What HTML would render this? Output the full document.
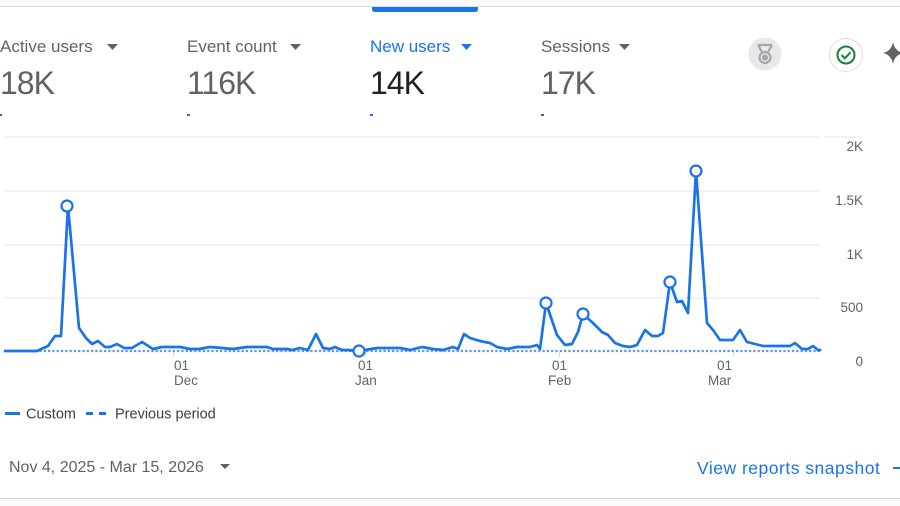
<!DOCTYPE html>
<html>
<head>
<meta charset="utf-8">
<style>
  html, body { margin:0; padding:0; background:#fff; }
  body { width:900px; height:506px; position:relative; overflow:hidden; font-family:"Liberation Sans", Arial, sans-serif; }
  .abs { position:absolute; white-space:nowrap; }
  .mlabel { font-size:17px; color:#5f6368; top:37px; }
  .mval { font-size:32px; color:#5f6368; top:65px; letter-spacing:-1px; }
</style>
</head>
<body>
<svg width="900" height="506" style="position:absolute;left:0;top:0" xmlns="http://www.w3.org/2000/svg">
  <!-- top strip -->
  <rect x="0" y="0" width="900" height="6" fill="#f8f9fa"/>
  <line x1="0" y1="6.5" x2="900" y2="6.5" stroke="#dadce0" stroke-width="1"/>
  <path d="M372 7 H478 V9 Q478 12 475 12 H375 Q372 12 372 9 Z" fill="#1a73e8"/>

  <!-- metric triangles -->
  <path d="M107 44 L118 44 L112.5 50 Z" fill="#5f6368"/>
  <path d="M290 44 L301 44 L295.5 50 Z" fill="#5f6368"/>
  <path d="M461 44 L472 44 L466.5 50 Z" fill="#1a73e8"/>
  <path d="M619 44 L630 44 L624.5 50 Z" fill="#5f6368"/>

  <!-- small dashes under values -->
  <rect x="0" y="114" width="2" height="2" fill="#5f6368"/>
  <rect x="187" y="114" width="3" height="2" fill="#5f6368"/>
  <rect x="370" y="114" width="3" height="2" fill="#1a73e8"/>
  <rect x="541" y="114" width="3" height="2" fill="#5f6368"/>

  <!-- icons -->
  <circle cx="765" cy="54" r="16.5" fill="#e8e8e8"/>
  <g fill="none" stroke="#a4a7ab" stroke-width="2.2">
    <path d="M758 45 L762 52 M772 45 L768 52 M758 45 H772"/>
    <circle cx="765" cy="57.5" r="5.5"/>
    <circle cx="765" cy="57.5" r="2" fill="#a4a7ab"/>
  </g>
  <circle cx="846" cy="55" r="16.5" fill="#fff" stroke="#dadce0" stroke-width="1"/>
  <circle cx="846" cy="55" r="8.5" fill="none" stroke="#188038" stroke-width="2"/>
  <path d="M841.5 55 L844.8 58.3 L850.5 52.3" fill="none" stroke="#188038" stroke-width="2"/>
  <path d="M893 42 Q894.5 51 903 53 Q894.5 55 893 64 Q891.5 55 883 53 Q891.5 51 893 42 Z" fill="#5f6368"/>

  <!-- gridlines -->
  <g stroke="#ebebeb" stroke-width="1.3">
    <line x1="5" y1="137" x2="820" y2="137"/>
    <line x1="825" y1="137" x2="862" y2="137"/>
    <line x1="5" y1="191" x2="820" y2="191"/>
    <line x1="5" y1="245" x2="820" y2="245"/>
    <line x1="5" y1="298" x2="820" y2="298"/>
  </g>
  <!-- y labels -->
  <g font-family="Liberation Sans, Arial, sans-serif" font-size="13.5" fill="#5f6368" text-anchor="end">
    <text x="863" y="151">2K</text>
    <text x="863" y="205">1.5K</text>
    <text x="863" y="259">1K</text>
    <text x="863" y="312">500</text>
    <text x="863" y="366">0</text>
  </g>
  <!-- x ticks -->
  <g stroke="#dadce0" stroke-width="1">
    <line x1="173.5" y1="352" x2="173.5" y2="357"/>
    <line x1="365.5" y1="352" x2="365.5" y2="357"/>
    <line x1="559.5" y1="352" x2="559.5" y2="357"/>
    <line x1="733.5" y1="352" x2="733.5" y2="357"/>
  </g>
  <g font-family="Liberation Sans, Arial, sans-serif" font-size="13.5" fill="#5f6368">
    <text x="174" y="370">01</text><text x="174" y="385">Dec</text>
    <text x="358" y="370">01</text><text x="355" y="385">Jan</text>
    <text x="552" y="370">01</text><text x="548" y="385">Feb</text>
    <text x="717" y="370">01</text><text x="708" y="385">Mar</text>
  </g>

  <!-- previous period dotted -->
  <line x1="5" y1="351" x2="820" y2="351" stroke="#5e97f6" stroke-width="2.2" stroke-dasharray="2.3 2"/>

  <!-- main series -->
  <polyline fill="none" stroke="#1a73e8" stroke-width="2.7" stroke-linejoin="round" stroke-linecap="round"
    points="5,351 37,351 48,346 55,336 61,336 68,206 79,328 86,338 92,344 98,341 105,347 110,347 117,344 124,348 132,348 142,342 153,349 162,347 180,347 190,349 199,349 210,347 222,348 233,349 247,347 267,347 273,349 287,349 292,350 300,348 308,350 316,334 323,348 330,349 335,347 342,350 348,350 359,351 377,348 390,348 400,348 410,350 422,347 433,349 443,350 453,347 458,349 464,334 470,338 480,341 490,343 497,347 507,349 517,347 530,347 537,345 540,349 546,303 557,335 565,345 572,344 578,332 583,314 593,323 602,332 608,335 615,343 623,346 630,347 637,345 645,330 652,336 658,336 663,333 670,282 677,302 682,301 688,313 696,171 707,323 713,330 720,340 733,340 740,330 747,342 763,346 777,346 790,346 795,343 802,349 808,349 813,346 818,350 820,350"/>
  <g fill="#fff" stroke="#1a73e8" stroke-width="2.2">
    <circle cx="67" cy="206" r="5.5"/>
    <circle cx="359" cy="351" r="5.5"/>
    <circle cx="546" cy="303" r="5.5"/>
    <circle cx="583" cy="314" r="5.5"/>
    <circle cx="670" cy="282" r="5.5"/>
    <circle cx="696" cy="171" r="5.5"/>
  </g>

  <!-- legend -->
  <line x1="5" y1="413.5" x2="20" y2="413.5" stroke="#1a73e8" stroke-width="3"/>
  <rect x="86" y="412" width="7" height="3" fill="#1a73e8"/>
  <rect x="99" y="412" width="7" height="3" fill="#1a73e8"/>
  <g font-family="Liberation Sans, Arial, sans-serif" font-size="14.5" fill="#3c4043">
    <text x="26" y="418.5">Custom</text>
    <text x="115" y="418.5">Previous period</text>
  </g>

  <!-- footer -->
  <text x="9" y="472" font-family="Liberation Sans, Arial, sans-serif" font-size="16" fill="#5f6368">Nov 4, 2025 - Mar 15, 2026</text>
  <path d="M220 464 L230 464 L225 469 Z" fill="#5f6368"/>
  <text x="697" y="474" font-family="Liberation Sans, Arial, sans-serif" font-size="17.5" letter-spacing="0.5" fill="#1a73e8">View reports snapshot</text>
  <line x1="893" y1="468" x2="900" y2="468" stroke="#1a73e8" stroke-width="2"/>

  <rect x="0" y="498" width="900" height="8" fill="#f8f9fa"/>
  <line x1="0" y1="498.5" x2="900" y2="498.5" stroke="#dadce0" stroke-width="1"/>
</svg>

<div class="abs mlabel" style="left:0">Active users</div>
<div class="abs mlabel" style="left:187px">Event count</div>
<div class="abs mlabel" style="left:370px;color:#1a73e8">New users</div>
<div class="abs mlabel" style="left:541px">Sessions</div>

<div class="abs mval" style="left:0">18K</div>
<div class="abs mval" style="left:187px">116K</div>
<div class="abs mval" style="left:370px;color:#202124">14K</div>
<div class="abs mval" style="left:541px">17K</div>
</body>
</html>
